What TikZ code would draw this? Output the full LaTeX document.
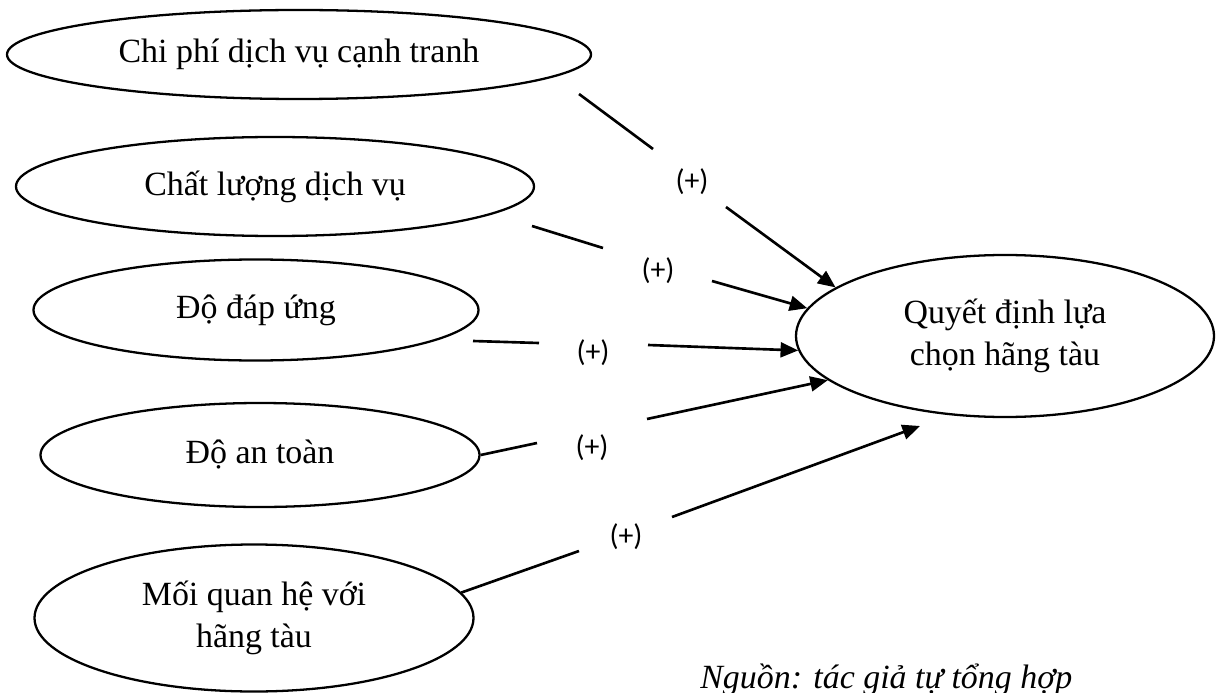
\documentclass[tikz,border=0pt]{standalone}
\usepackage{fontspec}
\setmainfont{Liberation Serif}
\newfontfamily\plusfont{Carlito}
\usetikzlibrary{shapes.geometric,arrows.meta}

\tikzset{factor/.style = {shape = ellipse,
                          color = black,
                          inner sep = 0pt,
                          line width = 1.3pt,
                          font = \fontsize{19.3}{23.9}\selectfont,
                          align = center,
                          draw}}

\begin{document}
\begin{tikzpicture}[plus/.style = {inner sep = 0pt,
                                   font = \plusfont\fontsize{17}{20}\selectfont},
                    link/.style = {line width = 1.5pt},
                    linkarr/.style = {line width = 1.5pt,
                                      -{Triangle[length=10pt,width=8.5pt]}}]
		\useasboundingbox (0,0) rectangle (24.34,-13.86);
		% factors
		\node[factor, minimum width=11.68cm, minimum height=1.78cm] (c1) at (5.98,-1.09) {Chi phí dịch vụ cạnh tranh};
		\node[factor, minimum width=10.36cm, minimum height=1.98cm] (c2) at (5.50,-3.73) {Chất lượng dịch vụ};
		\node[factor, minimum width=8.90cm, minimum height=2.02cm] (c3) at (5.12,-6.20) {Độ đáp ứng};
		\node[factor, minimum width=8.78cm, minimum height=2.08cm] (c4) at (5.20,-9.10) {Độ an toàn};
		\node[factor, minimum width=8.78cm, minimum height=2.94cm] (c5) at (5.08,-12.36) {Mối quan hệ với\\hãng tàu};
		\node[factor, minimum width=8.36cm, minimum height=3.24cm] (q) at (20.10,-6.72) {Quyết định lựa\\chọn hãng tàu};
		% signs
		\node[plus] (l1) at (13.84,-3.64) {(+)};
		\node[plus] (l2) at (13.16,-5.42) {(+)};
		\node[plus] (l3) at (11.86,-7.06) {(+)};
		\node[plus] (l4) at (11.84,-8.96) {(+)};
		\node[plus] (l5) at (12.52,-10.74) {(+)};
		% line ends beside the signs
		\coordinate (a1) at (11.58,-1.88);
		\coordinate (b1) at (13.06,-2.98);
		\coordinate (d1) at (14.52,-4.14);
		\coordinate (a2) at (10.64,-4.52);
		\coordinate (b2) at (12.06,-4.96);
		\coordinate (d2) at (14.24,-5.62);
		\coordinate (a3) at (9.46,-6.82);
		\coordinate (b3) at (10.78,-6.86);
		\coordinate (d3) at (12.96,-6.90);
		\coordinate (b4) at (10.74,-8.86);
		\coordinate (d4) at (12.94,-8.38);
		\coordinate (b5) at (11.58,-11.02);
		\coordinate (d5) at (13.44,-10.34);
		\coordinate (e5) at (18.40,-8.52);
		\path[link] (a1) edge (b1);
		\path[linkarr] (d1) edge (q.164.5);
		\path[link] (a2) edge (b2);
		\path[linkarr] (d2) edge (q.172.3);
		\path[link] (a3) edge (b3);
		\path[linkarr] (d3) edge (q.184);
		\path[link] (c4.east) edge (b4);
		\path[linkarr] (d4) edge (q.194);
		\path[link] (c5.7) edge (b5);
		\path[linkarr] (d5) edge (e5);
		% source
		\node[anchor=base west, inner sep=0pt, font=\fontsize{19.3}{23.9}\selectfont\itshape] (src) at (14.0,-13.76) {Nguồn: tác giả tự tổng hợp};
	\end{tikzpicture}
\end{document}
